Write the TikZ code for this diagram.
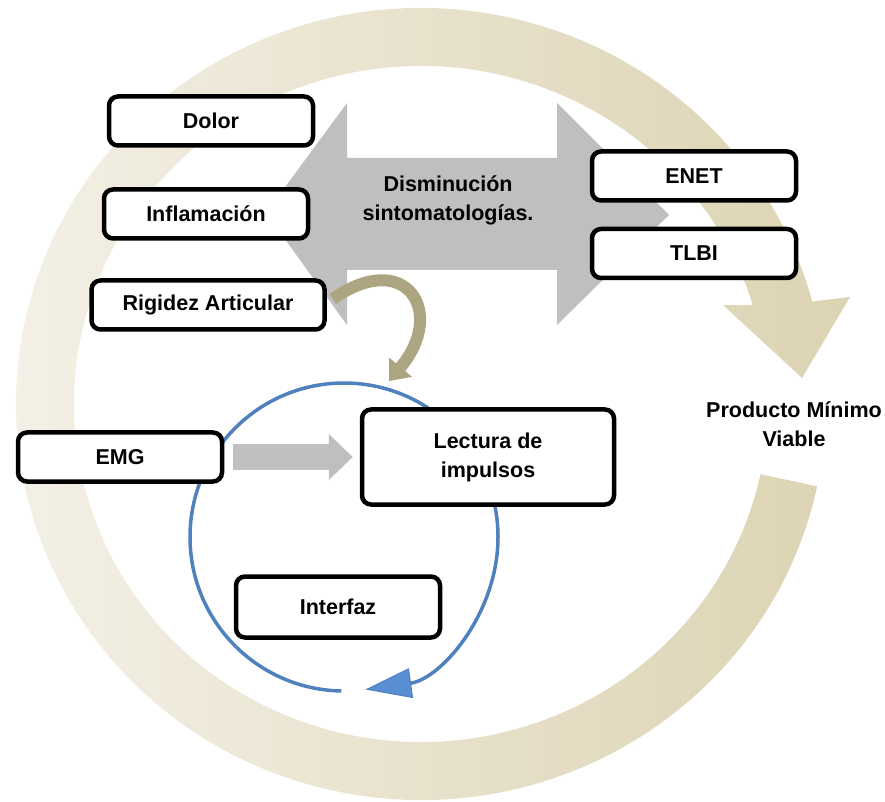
\documentclass[tikz,border=0pt]{standalone}
\usepackage{fontspec}
\setmainfont{Liberation Sans}
\usepackage{xcolor}
\usepackage{tikz}
\usetikzlibrary{positioning, arrows.meta, shapes, calc}

\definecolor{ringL}{HTML}{F4F1E8}
\definecolor{ringR}{HTML}{DCD3B2}
\definecolor{bargray}{HTML}{BFBFBF}
\definecolor{olivec}{HTML}{ADA582}
\definecolor{cycblue}{HTML}{4F81BD}
\definecolor{headblue}{HTML}{5A8ED3}

\begin{document}
\begin{tikzpicture}[
    x=1pt, y=1pt,
    box/.style={rectangle, rounded corners=9pt, draw=black, line width=4.5pt, fill=white, align=center,
        minimum width=204pt, minimum height=49pt, font=\bfseries\fontsize{21.5}{29}\selectfont},
    lbl/.style={align=center, font=\bfseries\fontsize{21.5}{29}\selectfont}
]
    \useasboundingbox (0,0) rectangle (885,801);

    % big cycle arrow
    \coordinate (c) at (421,397);
    \path[left color=ringL, right color=ringR]
        ($(c)+(-12:405pt and 396pt)$) arc[start angle=-12, end angle=-345, x radius=405pt, y radius=396pt]
        -- ($(c)+(429,107)$) -- ($(c)+(381,26)$) -- ($(c)+(302,99)$)
        -- ($(c)+(17:347pt and 338pt)$) arc[start angle=17, end angle=348, x radius=347pt, y radius=338pt]
        -- cycle;

    % gray double arrow
    \fill[bargray] (266,588) -- (347,698) -- (347,643) -- (557,643) -- (557,698) -- (669,586)
        -- (557,476) -- (557,531) -- (347,531) -- (347,476) -- cycle;
    \node[lbl] (dism) at (448,601) {Disminución\\sintomatologías.};

    % blue cycle
    \coordinate (bc) at (344,264);
    \draw[cycblue, line width=3.5pt, -{Triangle[length=46pt, width=30pt, line width=1pt, fill=headblue]}]
        ($(bc)+(-91:154pt)$) arc[start angle=-91, end angle=-442, radius=154pt];

    \node[box] (dolor) at (211,680) {Dolor};
    \node[box] (infl) at (206,587) {Inflamación};
    \node[box, minimum width=233pt] (rig) at (208,496) {Rigidez Articular};
    \node[box] (enet) at (694,625) {ENET};
    \node[box, below=24pt of enet] (tlbi) {TLBI};
    \node[box] (emg) at (120,344) {EMG};
    \node[box, minimum width=252pt, minimum height=95pt] (lect) at (488,344) {Lectura de\\impulsos};
    \node[box, minimum height=61pt] (intf) at (338,194) {Interfaz};
    \node[lbl] (pmv) at (794,377) {Producto Mínimo\\Viable};

    \coordinate (oltip) at (389,420);
    \draw[bargray, line width=26pt, -{Triangle[length=24pt, width=46pt, line width=0pt]}]
        ([xshift=9pt]emg.east) -- ([xshift=-7pt]lect.west);
    \draw[olivec, line width=12pt, -{Triangle[length=18pt, width=30pt, line width=0pt]}]
        ([xshift=6pt,yshift=6pt]rig.east) to[out=35, in=50, looseness=2.3] (oltip);

\end{tikzpicture}
\end{document}
